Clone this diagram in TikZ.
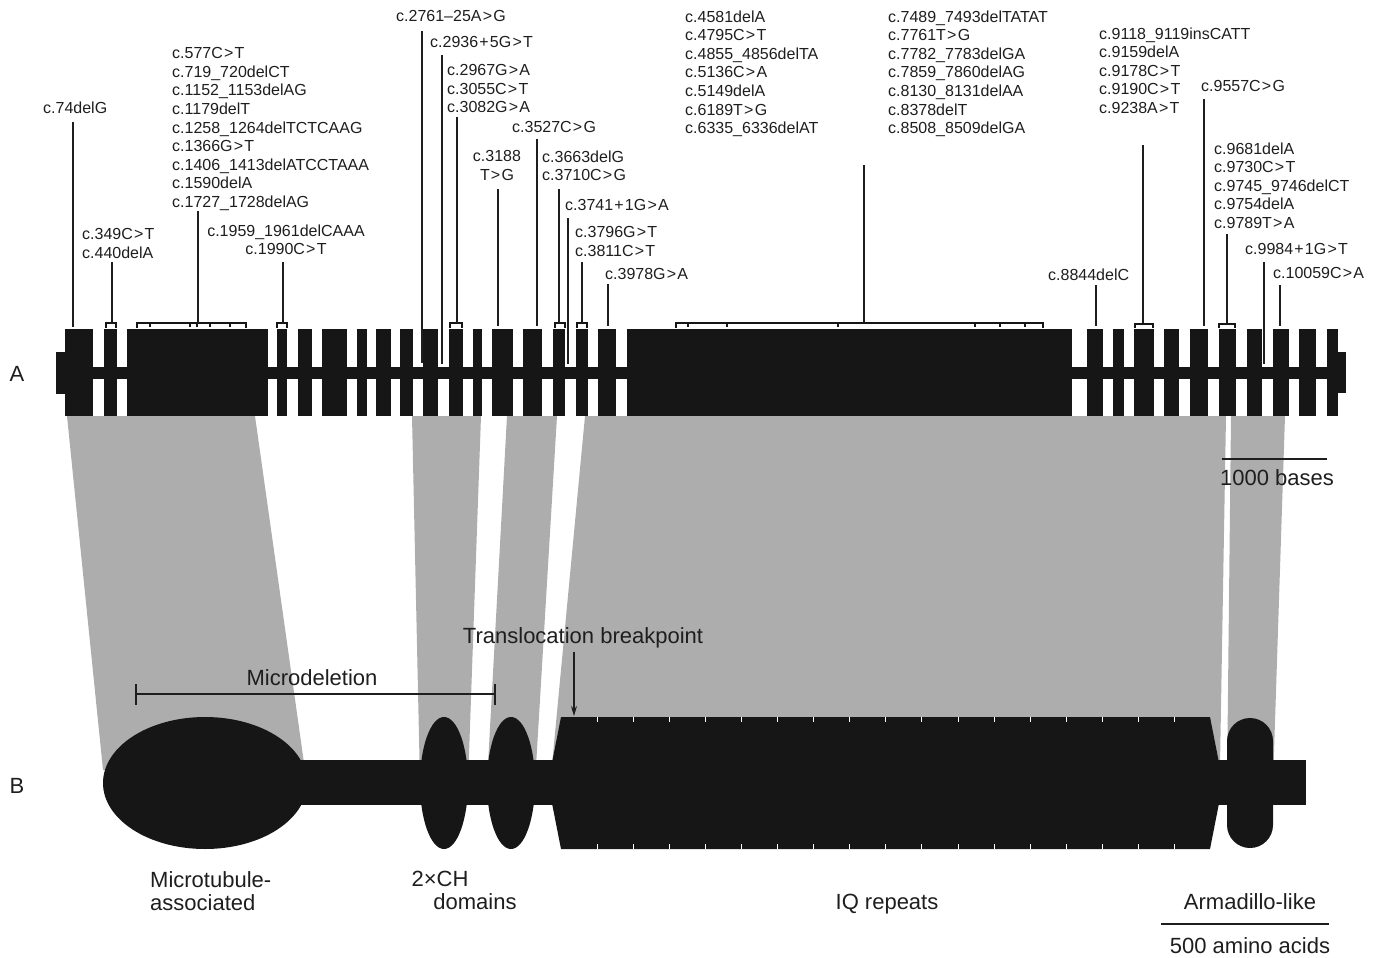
\documentclass[tikz,border=0pt]{standalone}
\usepackage{fontspec}
\setmainfont{Liberation Sans}
\usetikzlibrary{arrows.meta}
\definecolor{ink}{RGB}{22,22,22}
\definecolor{shade}{RGB}{173,173,173}
\definecolor{txt}{RGB}{30,30,30}
\newcommand\mgt{\kern1.2pt>\kern1.2pt}
\newcommand\mpl{\kern1.2pt+\kern1.2pt}
\begin{document}
\begin{tikzpicture}[x=1pt,y=-1pt,
  mut/.style={anchor=north west, inner sep=0pt, align=left, text depth=0pt,
    font=\fontsize{16}{18.6}\selectfont, text=txt},
  mutc/.style={mut, anchor=north, align=center},
  big/.style={inner sep=0pt, font=\fontsize{22}{23}\selectfont, text=txt},
  mline/.style={draw=txt, line width=1.3pt},
  exon/.style={fill=ink},
  band/.style={fill=shade},
  brk/.style={draw=ink, line width=1.6pt},
  tick/.style={draw=ink, line width=1.2pt},
  rep/.style={draw=white, line width=1pt}]
\useasboundingbox (0,0) rectangle (1379,958);

% ---------- grey projections ----------
\fill[band] (67,416) -- (255,416) -- (305,770) -- (103,770) -- cycle;
\fill[band] (412,416) -- (481,416) -- (468,783) -- (420,783) -- cycle;
\fill[band] (507,416) -- (557,416) -- (535,783) -- (487,783) -- cycle;
\fill[band] (585,416) -- (1226,416) -- (1220,765) -- (552,765) -- cycle;
\fill[band] (1231,416) -- (1285,416) -- (1273,783) -- (1227,783) -- cycle;

% ---------- track A: gene ----------
\fill[exon] (65,367) rectangle (1338,379);
\fill[exon] (56,352) rectangle (66,394);
\fill[exon] (1337,352) rectangle (1346,393);
\foreach \a/\b in {65/93,104/117,127/268,277/287,298/312,322/347,357/367,376/391,
  400/413,423/438,449/463,473/482,492/513,523/542,553/565,576/588,598/616,627/1072,
  1087/1103,1113/1124,1134/1154,1164/1179,1190/1208,1219/1236,1247/1262,1273/1289,
  1299/1316,1327/1338}
  \fill[exon] (\a,329) rectangle (\b,416);

% brackets over exons
\draw[brk] (106,328) |- (116,323) -- (116,328);
\draw[brk] (137,328) |- (246,323) -- (246,328);
\foreach \t in {150,190,197,210,230} \draw[tick] (\t,323) -- (\t,327);
\draw[brk] (277,328) |- (287,323) -- (287,328);
\draw[brk] (450,328) |- (462,323) -- (462,328);
\draw[brk] (555,328) |- (565,323) -- (565,328);
\draw[brk] (577,328) |- (587,323) -- (587,328);
\draw[brk] (676,328) |- (1043,323) -- (1043,328);
\foreach \t in {688,727,838,975,1000,1025} \draw[tick] (\t,323) -- (\t,327);
\draw[brk, line width=2.4pt] (1135,328) |- (1153,324) -- (1153,328);
\draw[brk, line width=2.4pt] (1219,328) |- (1235,324) -- (1235,328);

\node[big, anchor=base] (lblA) at (17,381.5) {A};

% ---------- mutation labels ----------
\node[mut] (m74) at (43,101.3) {c.74delG};
\node[mut] (m349) at (82,228.3) {c.349C\mgt T\\c.440delA};
\node[mut] (m577) at (172,47.3) {c.577C\mgt T\\c.719\_720delCT\\c.1152\_1153delAG\\c.1179delT\\c.1258\_1264delTCTCAAG\\c.1366G\mgt T\\c.1406\_1413delATCCTAAA\\c.1590delA\\c.1727\_1728delAG};
\node[mutc] (m1959) at (286,224.3) {c.1959\_1961delCAAA\\c.1990C\mgt T};
\node[mut] (m2761) at (396,10.3) {c.2761–25A\mgt G};
\node[mut] (m2936) at (430,36.3) {c.2936\mpl 5G\mgt T};
\node[mut] (m2967) at (447,64.3) {c.2967G\mgt A\\c.3055C\mgt T\\c.3082G\mgt A};
\node[mut] (m3527) at (512,121.3) {c.3527C\mgt G};
\node[mutc] (m3188) at (497,150.3) {c.3188\\T\mgt G};
\node[mut] (m3663) at (542,150.3) {c.3663delG\\c.3710C\mgt G};
\node[mut] (m3741) at (565,199.3) {c.3741\mpl 1G\mgt A};
\node[mut] (m3796) at (575,226.3) {c.3796G\mgt T\\c.3811C\mgt T};
\node[mut] (m3978) at (605,268.3) {c.3978G\mgt A};
\node[mut] (miq1) at (685,10.3) {c.4581delA\\c.4795C\mgt T\\c.4855\_4856delTA\\c.5136C\mgt A\\c.5149delA\\c.6189T\mgt G\\c.6335\_6336delAT};
\node[mut] (miq2) at (888,10.3) {c.7489\_7493delTATAT\\c.7761T\mgt G\\c.7782\_7783delGA\\c.7859\_7860delAG\\c.8130\_8131delAA\\c.8378delT\\c.8508\_8509delGA};
\node[mut] (m8844) at (1048,268.3) {c.8844delC};
\node[mut] (m9118) at (1099,27.3) {c.9118\_9119insCATT\\c.9159delA\\c.9178C\mgt T\\c.9190C\mgt T\\c.9238A\mgt T};
\node[mut] (m9557) at (1201,80.3) {c.9557C\mgt G};
\node[mut] (m9681) at (1214,142.3) {c.9681delA\\c.9730C\mgt T\\c.9745\_9746delCT\\c.9754delA\\c.9789T\mgt A};
\node[mut] (m9984) at (1245,243.3) {c.9984\mpl 1G\mgt T};
\node[mut] (m10059) at (1273,267.3) {c.10059C\mgt A};

% ---------- connector end points on the gene ----------
\coordinate (b74) at (73,327);
\coordinate (b349) at (112,323);
\coordinate (b577) at (198,323);
\coordinate (b1959) at (283,323);
\coordinate (b2761) at (422,363);
\coordinate (b2936) at (442,364);
\coordinate (b2967) at (457,323);
\coordinate (b3527) at (537,326);
\coordinate (b3188) at (498,326);
\coordinate (b3663) at (559,323);
\coordinate (b3741) at (568,364);
\coordinate (b3796) at (582,323);
\coordinate (b3978) at (608,326);
\coordinate (tiq) at (864,165);
\coordinate (biq) at (864,323);
\coordinate (b8844) at (1096,326);
\coordinate (b9118) at (1143,323);
\coordinate (b9557) at (1204,326);
\coordinate (b9681) at (1227,323);
\coordinate (b9984) at (1264,364);
\coordinate (b10059) at (1280,326);

\draw[mline, shorten <=9pt] (m74.south -| b74) -- (b74);
\draw[mline, shorten <=3.6pt] (m349.south -| b349) -- (b349);
\draw[mline, shorten <=3.4pt] (m577.south -| b577) -- (b577);
\draw[mline, shorten <=7.6pt] (m1959.south -| b1959) -- (b1959);
\draw[mline, shorten <=9.2pt] (m2761.south -| b2761) -- (b2761);
\draw[mline, shorten <=7.2pt] (m2936.south -| b2936) -- (b2936);
\draw[mline, shorten <=4pt] (m2967.south -| b2967) -- (b2967);
\draw[mline, shorten <=6.2pt] (m3527.south -| b3527) -- (b3527);
\draw[mline, shorten <=8.6pt] (m3188.south -| b3188) -- (b3188);
\draw[mline, shorten <=8.6pt] (m3663.south -| b3663) -- (b3663);
\draw[mline, shorten <=7.2pt] (m3741.south -| b3741) -- (b3741);
\draw[mline, shorten <=5.6pt] (m3796.south -| b3796) -- (b3796);
\draw[mline, shorten <=4.2pt] (m3978.south -| b3978) -- (b3978);
\draw[mline] (tiq) -- (biq);
\draw[mline, shorten <=5.2pt] (m8844.south -| b8844) -- (b8844);
\draw[mline, shorten <=31.8pt] (m9118.south -| b9118) -- (b9118);
\draw[mline, shorten <=7.2pt] (m9557.south -| b9557) -- (b9557);
\draw[mline, shorten <=5.8pt] (m9681.south -| b9681) -- (b9681);
\draw[mline, shorten <=7.2pt] (m9984.south -| b9984) -- (b9984);
\draw[mline, shorten <=6.2pt] (m10059.south -| b10059) -- (b10059);

% scale bar A
\coordinate (sbA1) at (1222,459);
\coordinate (sbA2) at (1327,459);
\draw[mline] (sbA1) -- (sbA2);
\node[big, anchor=base] (kb) at (1277,485.5) {1000 bases};

% ---------- track B: protein ----------
\fill[ink] (200,760) rectangle (1306,805);
\fill[ink] (205,783) ellipse [x radius=102pt, y radius=66pt];
\fill[ink] (444,783) ellipse [x radius=24pt, y radius=66pt];
\fill[ink] (511,783) ellipse [x radius=24pt, y radius=66pt];
\fill[ink] (561,717) -- (1210,717) -- (1223,783) -- (1210,849) -- (561,849) -- (548,783) -- cycle;
\foreach \k in {0,...,16} {
  \draw[rep] ({597+36.1*\k},717) -- ({597+36.1*\k},722);
  \draw[rep] ({597+36.1*\k},844) -- ({597+36.1*\k},849);
}
\fill[ink, rounded corners=23pt] (1227,718) rectangle (1273,848);

\node[big, anchor=base] (lblB) at (17,793.5) {B};

% microdeletion
\node[big, anchor=base] (md) at (312,685.5) {Microdeletion};
\coordinate (md1) at (136,694);
\coordinate (md2) at (495,694);
\draw[mline, line width=1.2pt] (md1) -- (md2);
\draw[mline, line width=1.2pt] ([yshift=10pt]md1) -- ([yshift=-11pt]md1);
\draw[mline, line width=1.2pt] ([yshift=10pt]md2) -- ([yshift=-11pt]md2);

% translocation breakpoint
\node[big, anchor=base] (tb) at (583,643.5) {Translocation breakpoint};
\coordinate (tbp) at (574,716);
\draw[mline, line width=1.1pt, -{Stealth[length=10pt,width=6pt]}, shorten <=4pt] (tb.south -| tbp) -- (tbp);

% domain labels
\node[big, anchor=north west, align=left, font=\fontsize{22}{23}\selectfont] (mt) at (150,871) {Microtubule-\\associated};
\node[big, anchor=base] (ch1) at (440,886.5) {2×CH};
\node[big, anchor=base] (ch2) at (475,909.5) {domains};
\node[big, anchor=base] (iq) at (887,909.5) {IQ repeats};
\node[big, anchor=base] (arm) at (1250,909.5) {Armadillo-like};
\coordinate (sbB1) at (1161,924);
\coordinate (sbB2) at (1329,924);
\draw[mline] (sbB1) -- (sbB2);
\node[big, anchor=base] (aa) at (1250,953.5) {500 amino acids};
\end{tikzpicture}
\end{document}
